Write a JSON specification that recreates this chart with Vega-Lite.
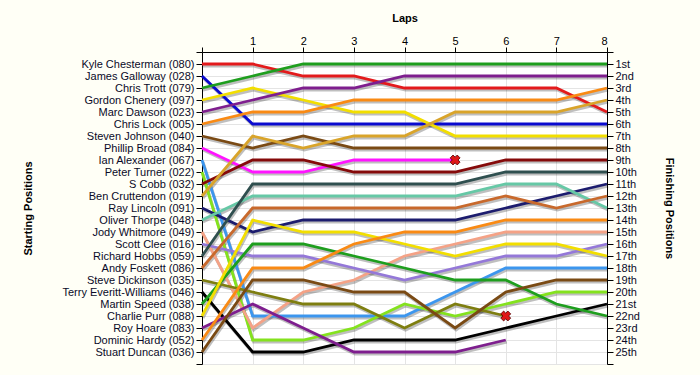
{
  "$schema": "https://vega.github.io/schema/vega-lite/v6.json",
  "width": 405,
  "height": 312,
  "autosize": {"type": "none"},
  "padding": {"left": 202, "top": 52, "right": 93, "bottom": 11},
  "background": "#FFFFF6",
  "config": {
    "view": {"fill": "#FFFFFF", "stroke": null},
    "axis": {"labelFont": "Liberation Sans", "titleFont": "Liberation Sans", "labelFontSize": 11, "titleFontSize": 11, "titleFontWeight": "bold", "labelColor": "#0a0a28", "titleColor": "#000000", "domainColor": "#000000", "tickColor": "#000000", "gridColor": "#E4E4E4", "gridWidth": 1}
  },
  "datasets": {
    "laps": [
      {"driver": "Kyle Chesterman (080)", "lap": 0, "pos": 1}, {"driver": "Kyle Chesterman (080)", "lap": 1, "pos": 1}, {"driver": "Kyle Chesterman (080)", "lap": 2, "pos": 2}, {"driver": "Kyle Chesterman (080)", "lap": 3, "pos": 2}, {"driver": "Kyle Chesterman (080)", "lap": 4, "pos": 3}, {"driver": "Kyle Chesterman (080)", "lap": 5, "pos": 3}, {"driver": "Kyle Chesterman (080)", "lap": 6, "pos": 3}, {"driver": "Kyle Chesterman (080)", "lap": 7, "pos": 3}, {"driver": "Kyle Chesterman (080)", "lap": 8, "pos": 5},
      {"driver": "James Galloway (028)", "lap": 0, "pos": 2}, {"driver": "James Galloway (028)", "lap": 1, "pos": 6}, {"driver": "James Galloway (028)", "lap": 2, "pos": 6}, {"driver": "James Galloway (028)", "lap": 3, "pos": 6}, {"driver": "James Galloway (028)", "lap": 4, "pos": 6}, {"driver": "James Galloway (028)", "lap": 5, "pos": 6}, {"driver": "James Galloway (028)", "lap": 6, "pos": 6}, {"driver": "James Galloway (028)", "lap": 7, "pos": 6}, {"driver": "James Galloway (028)", "lap": 8, "pos": 6},
      {"driver": "Chris Trott (079)", "lap": 0, "pos": 3}, {"driver": "Chris Trott (079)", "lap": 1, "pos": 2}, {"driver": "Chris Trott (079)", "lap": 2, "pos": 1}, {"driver": "Chris Trott (079)", "lap": 3, "pos": 1}, {"driver": "Chris Trott (079)", "lap": 4, "pos": 1}, {"driver": "Chris Trott (079)", "lap": 5, "pos": 1}, {"driver": "Chris Trott (079)", "lap": 6, "pos": 1}, {"driver": "Chris Trott (079)", "lap": 7, "pos": 1}, {"driver": "Chris Trott (079)", "lap": 8, "pos": 1},
      {"driver": "Gordon Chenery (097)", "lap": 0, "pos": 4}, {"driver": "Gordon Chenery (097)", "lap": 1, "pos": 3}, {"driver": "Gordon Chenery (097)", "lap": 2, "pos": 4}, {"driver": "Gordon Chenery (097)", "lap": 3, "pos": 5}, {"driver": "Gordon Chenery (097)", "lap": 4, "pos": 5}, {"driver": "Gordon Chenery (097)", "lap": 5, "pos": 7}, {"driver": "Gordon Chenery (097)", "lap": 6, "pos": 7}, {"driver": "Gordon Chenery (097)", "lap": 7, "pos": 7}, {"driver": "Gordon Chenery (097)", "lap": 8, "pos": 7},
      {"driver": "Marc Dawson (023)", "lap": 0, "pos": 5}, {"driver": "Marc Dawson (023)", "lap": 1, "pos": 4}, {"driver": "Marc Dawson (023)", "lap": 2, "pos": 3}, {"driver": "Marc Dawson (023)", "lap": 3, "pos": 3}, {"driver": "Marc Dawson (023)", "lap": 4, "pos": 2}, {"driver": "Marc Dawson (023)", "lap": 5, "pos": 2}, {"driver": "Marc Dawson (023)", "lap": 6, "pos": 2}, {"driver": "Marc Dawson (023)", "lap": 7, "pos": 2}, {"driver": "Marc Dawson (023)", "lap": 8, "pos": 2},
      {"driver": "Chris Lock (005)", "lap": 0, "pos": 6}, {"driver": "Chris Lock (005)", "lap": 1, "pos": 5}, {"driver": "Chris Lock (005)", "lap": 2, "pos": 5}, {"driver": "Chris Lock (005)", "lap": 3, "pos": 4}, {"driver": "Chris Lock (005)", "lap": 4, "pos": 4}, {"driver": "Chris Lock (005)", "lap": 5, "pos": 4}, {"driver": "Chris Lock (005)", "lap": 6, "pos": 4}, {"driver": "Chris Lock (005)", "lap": 7, "pos": 4}, {"driver": "Chris Lock (005)", "lap": 8, "pos": 3},
      {"driver": "Steven Johnson (040)", "lap": 0, "pos": 7}, {"driver": "Steven Johnson (040)", "lap": 1, "pos": 8}, {"driver": "Steven Johnson (040)", "lap": 2, "pos": 7}, {"driver": "Steven Johnson (040)", "lap": 3, "pos": 8}, {"driver": "Steven Johnson (040)", "lap": 4, "pos": 8}, {"driver": "Steven Johnson (040)", "lap": 5, "pos": 8}, {"driver": "Steven Johnson (040)", "lap": 6, "pos": 8}, {"driver": "Steven Johnson (040)", "lap": 7, "pos": 8}, {"driver": "Steven Johnson (040)", "lap": 8, "pos": 8},
      {"driver": "Phillip Broad (084)", "lap": 0, "pos": 8}, {"driver": "Phillip Broad (084)", "lap": 1, "pos": 10}, {"driver": "Phillip Broad (084)", "lap": 2, "pos": 10}, {"driver": "Phillip Broad (084)", "lap": 3, "pos": 9}, {"driver": "Phillip Broad (084)", "lap": 4, "pos": 9}, {"driver": "Phillip Broad (084)", "lap": 5, "pos": 9},
      {"driver": "Ian Alexander (067)", "lap": 0, "pos": 9}, {"driver": "Ian Alexander (067)", "lap": 1, "pos": 22}, {"driver": "Ian Alexander (067)", "lap": 2, "pos": 22}, {"driver": "Ian Alexander (067)", "lap": 3, "pos": 22}, {"driver": "Ian Alexander (067)", "lap": 4, "pos": 22}, {"driver": "Ian Alexander (067)", "lap": 5, "pos": 20}, {"driver": "Ian Alexander (067)", "lap": 6, "pos": 18}, {"driver": "Ian Alexander (067)", "lap": 7, "pos": 18}, {"driver": "Ian Alexander (067)", "lap": 8, "pos": 18},
      {"driver": "Peter Turner (022)", "lap": 0, "pos": 10}, {"driver": "Peter Turner (022)", "lap": 1, "pos": 24}, {"driver": "Peter Turner (022)", "lap": 2, "pos": 24}, {"driver": "Peter Turner (022)", "lap": 3, "pos": 23}, {"driver": "Peter Turner (022)", "lap": 4, "pos": 21}, {"driver": "Peter Turner (022)", "lap": 5, "pos": 22}, {"driver": "Peter Turner (022)", "lap": 6, "pos": 21}, {"driver": "Peter Turner (022)", "lap": 7, "pos": 20}, {"driver": "Peter Turner (022)", "lap": 8, "pos": 20},
      {"driver": "S Cobb (032)", "lap": 0, "pos": 11}, {"driver": "S Cobb (032)", "lap": 1, "pos": 9}, {"driver": "S Cobb (032)", "lap": 2, "pos": 9}, {"driver": "S Cobb (032)", "lap": 3, "pos": 10}, {"driver": "S Cobb (032)", "lap": 4, "pos": 10}, {"driver": "S Cobb (032)", "lap": 5, "pos": 10}, {"driver": "S Cobb (032)", "lap": 6, "pos": 9}, {"driver": "S Cobb (032)", "lap": 7, "pos": 9}, {"driver": "S Cobb (032)", "lap": 8, "pos": 9},
      {"driver": "Ben Cruttendon (019)", "lap": 0, "pos": 12}, {"driver": "Ben Cruttendon (019)", "lap": 1, "pos": 7}, {"driver": "Ben Cruttendon (019)", "lap": 2, "pos": 8}, {"driver": "Ben Cruttendon (019)", "lap": 3, "pos": 7}, {"driver": "Ben Cruttendon (019)", "lap": 4, "pos": 7}, {"driver": "Ben Cruttendon (019)", "lap": 5, "pos": 5}, {"driver": "Ben Cruttendon (019)", "lap": 6, "pos": 5}, {"driver": "Ben Cruttendon (019)", "lap": 7, "pos": 5}, {"driver": "Ben Cruttendon (019)", "lap": 8, "pos": 4},
      {"driver": "Ray Lincoln (091)", "lap": 0, "pos": 13}, {"driver": "Ray Lincoln (091)", "lap": 1, "pos": 15}, {"driver": "Ray Lincoln (091)", "lap": 2, "pos": 14}, {"driver": "Ray Lincoln (091)", "lap": 3, "pos": 14}, {"driver": "Ray Lincoln (091)", "lap": 4, "pos": 14}, {"driver": "Ray Lincoln (091)", "lap": 5, "pos": 14}, {"driver": "Ray Lincoln (091)", "lap": 6, "pos": 13}, {"driver": "Ray Lincoln (091)", "lap": 7, "pos": 12}, {"driver": "Ray Lincoln (091)", "lap": 8, "pos": 11},
      {"driver": "Oliver Thorpe (048)", "lap": 0, "pos": 14}, {"driver": "Oliver Thorpe (048)", "lap": 1, "pos": 12}, {"driver": "Oliver Thorpe (048)", "lap": 2, "pos": 12}, {"driver": "Oliver Thorpe (048)", "lap": 3, "pos": 12}, {"driver": "Oliver Thorpe (048)", "lap": 4, "pos": 12}, {"driver": "Oliver Thorpe (048)", "lap": 5, "pos": 12}, {"driver": "Oliver Thorpe (048)", "lap": 6, "pos": 11}, {"driver": "Oliver Thorpe (048)", "lap": 7, "pos": 11}, {"driver": "Oliver Thorpe (048)", "lap": 8, "pos": 13},
      {"driver": "Jody Whitmore (049)", "lap": 0, "pos": 15}, {"driver": "Jody Whitmore (049)", "lap": 1, "pos": 23}, {"driver": "Jody Whitmore (049)", "lap": 2, "pos": 20}, {"driver": "Jody Whitmore (049)", "lap": 3, "pos": 19}, {"driver": "Jody Whitmore (049)", "lap": 4, "pos": 17}, {"driver": "Jody Whitmore (049)", "lap": 5, "pos": 16}, {"driver": "Jody Whitmore (049)", "lap": 6, "pos": 15}, {"driver": "Jody Whitmore (049)", "lap": 7, "pos": 15}, {"driver": "Jody Whitmore (049)", "lap": 8, "pos": 15},
      {"driver": "Scott Clee (016)", "lap": 0, "pos": 16}, {"driver": "Scott Clee (016)", "lap": 1, "pos": 17}, {"driver": "Scott Clee (016)", "lap": 2, "pos": 17}, {"driver": "Scott Clee (016)", "lap": 3, "pos": 18}, {"driver": "Scott Clee (016)", "lap": 4, "pos": 19}, {"driver": "Scott Clee (016)", "lap": 5, "pos": 18}, {"driver": "Scott Clee (016)", "lap": 6, "pos": 17}, {"driver": "Scott Clee (016)", "lap": 7, "pos": 17}, {"driver": "Scott Clee (016)", "lap": 8, "pos": 16},
      {"driver": "Richard Hobbs (059)", "lap": 0, "pos": 17}, {"driver": "Richard Hobbs (059)", "lap": 1, "pos": 11}, {"driver": "Richard Hobbs (059)", "lap": 2, "pos": 11}, {"driver": "Richard Hobbs (059)", "lap": 3, "pos": 11}, {"driver": "Richard Hobbs (059)", "lap": 4, "pos": 11}, {"driver": "Richard Hobbs (059)", "lap": 5, "pos": 11}, {"driver": "Richard Hobbs (059)", "lap": 6, "pos": 10}, {"driver": "Richard Hobbs (059)", "lap": 7, "pos": 10}, {"driver": "Richard Hobbs (059)", "lap": 8, "pos": 10},
      {"driver": "Andy Foskett (086)", "lap": 0, "pos": 18}, {"driver": "Andy Foskett (086)", "lap": 1, "pos": 13}, {"driver": "Andy Foskett (086)", "lap": 2, "pos": 13}, {"driver": "Andy Foskett (086)", "lap": 3, "pos": 13}, {"driver": "Andy Foskett (086)", "lap": 4, "pos": 13}, {"driver": "Andy Foskett (086)", "lap": 5, "pos": 13}, {"driver": "Andy Foskett (086)", "lap": 6, "pos": 12}, {"driver": "Andy Foskett (086)", "lap": 7, "pos": 13}, {"driver": "Andy Foskett (086)", "lap": 8, "pos": 12},
      {"driver": "Steve Dickinson (035)", "lap": 0, "pos": 19}, {"driver": "Steve Dickinson (035)", "lap": 1, "pos": 20}, {"driver": "Steve Dickinson (035)", "lap": 2, "pos": 21}, {"driver": "Steve Dickinson (035)", "lap": 3, "pos": 21}, {"driver": "Steve Dickinson (035)", "lap": 4, "pos": 23}, {"driver": "Steve Dickinson (035)", "lap": 5, "pos": 21}, {"driver": "Steve Dickinson (035)", "lap": 6, "pos": 22},
      {"driver": "Terry Everitt-Williams (046)", "lap": 0, "pos": 20}, {"driver": "Terry Everitt-Williams (046)", "lap": 1, "pos": 25}, {"driver": "Terry Everitt-Williams (046)", "lap": 2, "pos": 25}, {"driver": "Terry Everitt-Williams (046)", "lap": 3, "pos": 24}, {"driver": "Terry Everitt-Williams (046)", "lap": 4, "pos": 24}, {"driver": "Terry Everitt-Williams (046)", "lap": 5, "pos": 24}, {"driver": "Terry Everitt-Williams (046)", "lap": 6, "pos": 23}, {"driver": "Terry Everitt-Williams (046)", "lap": 7, "pos": 22}, {"driver": "Terry Everitt-Williams (046)", "lap": 8, "pos": 21},
      {"driver": "Martin Speed (038)", "lap": 0, "pos": 21}, {"driver": "Martin Speed (038)", "lap": 1, "pos": 16}, {"driver": "Martin Speed (038)", "lap": 2, "pos": 16}, {"driver": "Martin Speed (038)", "lap": 3, "pos": 17}, {"driver": "Martin Speed (038)", "lap": 4, "pos": 18}, {"driver": "Martin Speed (038)", "lap": 5, "pos": 19}, {"driver": "Martin Speed (038)", "lap": 6, "pos": 19}, {"driver": "Martin Speed (038)", "lap": 7, "pos": 21}, {"driver": "Martin Speed (038)", "lap": 8, "pos": 22},
      {"driver": "Charlie Purr (088)", "lap": 0, "pos": 22}, {"driver": "Charlie Purr (088)", "lap": 1, "pos": 14}, {"driver": "Charlie Purr (088)", "lap": 2, "pos": 15}, {"driver": "Charlie Purr (088)", "lap": 3, "pos": 15}, {"driver": "Charlie Purr (088)", "lap": 4, "pos": 16}, {"driver": "Charlie Purr (088)", "lap": 5, "pos": 17}, {"driver": "Charlie Purr (088)", "lap": 6, "pos": 16}, {"driver": "Charlie Purr (088)", "lap": 7, "pos": 16}, {"driver": "Charlie Purr (088)", "lap": 8, "pos": 17},
      {"driver": "Roy Hoare (083)", "lap": 0, "pos": 23}, {"driver": "Roy Hoare (083)", "lap": 1, "pos": 21}, {"driver": "Roy Hoare (083)", "lap": 2, "pos": 23}, {"driver": "Roy Hoare (083)", "lap": 3, "pos": 25}, {"driver": "Roy Hoare (083)", "lap": 4, "pos": 25}, {"driver": "Roy Hoare (083)", "lap": 5, "pos": 25}, {"driver": "Roy Hoare (083)", "lap": 6, "pos": 24},
      {"driver": "Dominic Hardy (052)", "lap": 0, "pos": 24}, {"driver": "Dominic Hardy (052)", "lap": 1, "pos": 18}, {"driver": "Dominic Hardy (052)", "lap": 2, "pos": 18}, {"driver": "Dominic Hardy (052)", "lap": 3, "pos": 16}, {"driver": "Dominic Hardy (052)", "lap": 4, "pos": 15}, {"driver": "Dominic Hardy (052)", "lap": 5, "pos": 15}, {"driver": "Dominic Hardy (052)", "lap": 6, "pos": 14}, {"driver": "Dominic Hardy (052)", "lap": 7, "pos": 14}, {"driver": "Dominic Hardy (052)", "lap": 8, "pos": 14},
      {"driver": "Stuart Duncan (036)", "lap": 0, "pos": 25}, {"driver": "Stuart Duncan (036)", "lap": 1, "pos": 19}, {"driver": "Stuart Duncan (036)", "lap": 2, "pos": 19}, {"driver": "Stuart Duncan (036)", "lap": 3, "pos": 20}, {"driver": "Stuart Duncan (036)", "lap": 4, "pos": 20}, {"driver": "Stuart Duncan (036)", "lap": 5, "pos": 23}, {"driver": "Stuart Duncan (036)", "lap": 6, "pos": 20}, {"driver": "Stuart Duncan (036)", "lap": 7, "pos": 19}, {"driver": "Stuart Duncan (036)", "lap": 8, "pos": 19}
    ],
    "retired": [
      {"driver": "Phillip Broad (084)", "lap": 5, "pos": 9},
      {"driver": "Steve Dickinson (035)", "lap": 6, "pos": 22}
    ]
  },
  "resolve": {"axis": {"y": "independent"}},
  "layer": [
    {
      "data": {"name": "laps"},
      "mark": {"type": "line", "strokeWidth": 3, "color": "#000000", "opacity": 0.25, "xOffset": 1, "yOffset": 2},
      "encoding": {
        "x": {"field": "lap", "type": "quantitative", "scale": {"domain": [0, 8], "nice": false, "zero": false},
          "axis": {"orient": "top", "title": "Laps", "values": [0, 1, 2, 3, 4, 5, 6, 7, 8], "labelExpr": "datum.value == 0 ? '' : datum.label", "tickSize": 5, "labelPadding": 1, "labelColor": "#000000", "grid": true, "titleY": -34, "titleBaseline": "middle", "labelFontSize": 11}},
        "y": {"field": "pos", "type": "quantitative", "scale": {"domain": [0, 26], "reverse": true, "nice": false, "zero": false},
          "axis": {"orient": "left", "title": "Starting Positions", "values": [0, 1, 2, 3, 4, 5, 6, 7, 8, 9, 10, 11, 12, 13, 14, 15, 16, 17, 18, 19, 20, 21, 22, 23, 24, 25, 26], "grid": true, "tickSize": 6, "labelPadding": 2,
            "labelExpr": "['', 'Kyle Chesterman (080)', 'James Galloway (028)', 'Chris Trott (079)', 'Gordon Chenery (097)', 'Marc Dawson (023)', 'Chris Lock (005)', 'Steven Johnson (040)', 'Phillip Broad (084)', 'Ian Alexander (067)', 'Peter Turner (022)', 'S Cobb (032)', 'Ben Cruttendon (019)', 'Ray Lincoln (091)', 'Oliver Thorpe (048)', 'Jody Whitmore (049)', 'Scott Clee (016)', 'Richard Hobbs (059)', 'Andy Foskett (086)', 'Steve Dickinson (035)', 'Terry Everitt-Williams (046)', 'Martin Speed (038)', 'Charlie Purr (088)', 'Roy Hoare (083)', 'Dominic Hardy (052)', 'Stuart Duncan (036)', ''][datum.value]",
            "titleX": -174, "titleBaseline": "middle", "titleAngle": 270}},
        "detail": {"field": "driver", "type": "nominal"},
        "order": {"field": "lap", "type": "quantitative"}
      }
    },
    {
      "data": {"name": "laps"},
      "mark": {"type": "line", "strokeWidth": 2.8},
      "encoding": {
        "x": {"field": "lap", "type": "quantitative"},
        "y": {"field": "pos", "type": "quantitative",
          "axis": {"orient": "right", "title": "Finishing Positions", "values": [0, 1, 2, 3, 4, 5, 6, 7, 8, 9, 10, 11, 12, 13, 14, 15, 16, 17, 18, 19, 20, 21, 22, 23, 24, 25, 26], "grid": false, "tickSize": 6, "labelPadding": 2,
            "labelExpr": "['', '1st', '2nd', '3rd', '4th', '5th', '6th', '7th', '8th', '9th', '10th', '11th', '12th', '13th', '14th', '15th', '16th', '17th', '18th', '19th', '20th', '21st', '22nd', '23rd', '24th', '25th', ''][datum.value]",
            "titleX": 61, "titleBaseline": "middle", "titleAngle": 90}},
        "color": {"field": "driver", "type": "nominal", "legend": null,
          "scale": {"domain": ["Kyle Chesterman (080)", "James Galloway (028)", "Chris Trott (079)", "Gordon Chenery (097)", "Marc Dawson (023)", "Chris Lock (005)", "Steven Johnson (040)", "Phillip Broad (084)", "Ian Alexander (067)", "Peter Turner (022)", "S Cobb (032)", "Ben Cruttendon (019)", "Ray Lincoln (091)", "Oliver Thorpe (048)", "Jody Whitmore (049)", "Scott Clee (016)", "Richard Hobbs (059)", "Andy Foskett (086)", "Steve Dickinson (035)", "Terry Everitt-Williams (046)", "Martin Speed (038)", "Charlie Purr (088)", "Roy Hoare (083)", "Dominic Hardy (052)", "Stuart Duncan (036)"],
            "range": ["#E31A1C", "#0A0ACF", "#1E9E1E", "#F2DE00", "#7E1E8E", "#F98A14", "#7A4A14", "#FF14FF", "#3C96EE", "#84E21E", "#850A0A", "#D9A42A", "#1C1C6E", "#66C8A6", "#F4A286", "#9478D8", "#2F4F4F", "#C8692C", "#7E7E10", "#000000", "#1E9E1E", "#F2DE00", "#7E1E8E", "#F98A14", "#7A4A14"]}},
        "order": {"field": "lap", "type": "quantitative"}
      }
    },
    {
      "data": {"name": "retired"},
      "mark": {"type": "point", "shape": "cross", "angle": 45, "filled": true, "fill": "#E01818", "stroke": "#5A0000", "strokeWidth": 0.8, "size": 100, "opacity": 1},
      "encoding": {
        "x": {"field": "lap", "type": "quantitative"},
        "y": {"field": "pos", "type": "quantitative", "axis": null}
      }
    }
  ]
}
